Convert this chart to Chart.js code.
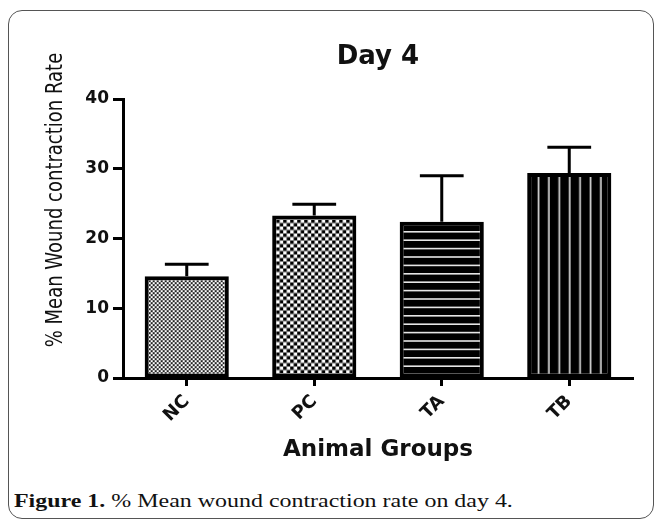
<!DOCTYPE html>
<html>
<head>
<meta charset="utf-8">
<script src="https://cdn.jsdelivr.net/npm/chart.js@4.4.1/dist/chart.umd.min.js"></script>
<style>
  body { margin: 0; background: #fff; }
  #wrap { position: relative; width: 655px; height: 524px; overflow: hidden; }
  #frame {
    position: absolute; left: 8px; top: 10px; width: 646px; height: 509px;
    border: 1px solid #555; border-radius: 14px; box-sizing: border-box;
  }
  #chartBox { position: absolute; left: 0; top: 0; width: 655px; height: 480px; }
  #caption {
    position: absolute; left: 14px; top: 491px; line-height: 20px; white-space: nowrap;
    font-family: "Liberation Serif", serif; font-size: 18px; color: #111;
    transform: scaleX(1.33); transform-origin: left top;
  }
</style>
</head>
<body>
<div id="wrap">
  <div id="frame"></div>
  <div id="chartBox"><canvas id="woundChart"></canvas></div>
  <div id="caption"><b>Figure 1.</b> % Mean wound contraction rate on day 4.</div>
</div>
<script>
// Data
const groups = ['NC', 'PC', 'TA', 'TB'];
const meanRate = [14.6, 23.3, 22.4, 29.4];
const semRate = [1.7, 1.6, 6.6, 3.7];
const yTicks = [0, 10, 20, 30, 40];

const BORDER = 4;

// Fill patterns for the bars
function makePattern(kind) {
    const c = document.createElement('canvas');
    let dx = 0, dy = 0;
    if (kind === 'fineCheck') {
        c.width = 4; c.height = 4;
        const g = c.getContext('2d');
        g.fillStyle = '#fff'; g.fillRect(0, 0, 4, 4);
        g.fillStyle = '#222';
        g.fillRect(0, 0, 2, 2); g.fillRect(2, 2, 2, 2);
    } else if (kind === 'check') {
        c.width = 7; c.height = 7;
        const g = c.getContext('2d');
        g.fillStyle = '#fff'; g.fillRect(0, 0, 7, 7);
        g.fillStyle = '#000';
        g.fillRect(0, 0, 3.5, 3.5); g.fillRect(3.5, 3.5, 3.5, 3.5);
    } else if (kind === 'hLines') {
        c.width = 10; c.height = 42;
        const g = c.getContext('2d');
        g.fillStyle = '#000'; g.fillRect(0, 0, 10, 42);
        g.fillStyle = '#e6e6e6';
        for (let k = 0; k < 5; k++) g.fillRect(0, k * 8.4, 10, 1.6);
        dy = 5.2;
    } else {
        c.width = 52; c.height = 10;
        const g = c.getContext('2d');
        g.fillStyle = '#000'; g.fillRect(0, 0, 52, 10);
        g.fillStyle = '#e6e6e6';
        for (let k = 0; k < 5; k++) g.fillRect(k * 10.4, 0, 1.6, 10);
        dx = 6.5;
    }
    const pattern = c.getContext('2d').createPattern(c, 'repeat');
    return { pattern, dx, dy };
}

const fills = ['fineCheck', 'check', 'hLines', 'vLines'].map(makePattern);

// Keep each pattern anchored to its own bar
const patternAnchor = {
    id: 'patternAnchor',
    beforeDatasetsDraw(chart) {
        chart.getDatasetMeta(0).data.forEach((bar, i) => {
            const left = bar.x - bar.width / 2 + BORDER;
            const top = bar.y + BORDER;
            fills[i].pattern.setTransform(new DOMMatrix([1, 0, 0, 1, left + fills[i].dx, top + fills[i].dy]));
        });
    }
};

// Upper SEM whiskers
const errorBars = {
    id: 'errorBars',
    afterDatasetsDraw(chart) {
        const ctx = chart.ctx;
        const y = chart.scales.y;
        ctx.save();
        ctx.strokeStyle = '#000';
        ctx.lineWidth = 3;
        chart.getDatasetMeta(0).data.forEach((bar, i) => {
            const top = y.getPixelForValue(meanRate[i] + semRate[i]);
            const half = bar.width * 0.26;
            ctx.beginPath();
            ctx.moveTo(bar.x, bar.y);
            ctx.lineTo(bar.x, top);
            ctx.moveTo(bar.x - half, top);
            ctx.lineTo(bar.x + half, top);
            ctx.stroke();
        });
        ctx.restore();
    }
};

// Titles: chart title centred over the plot area, y title a bit above the axis centre
const titles = {
    id: 'titles',
    afterDraw(chart) {
        const ctx = chart.ctx;
        const area = chart.chartArea;
        ctx.save();
        ctx.fillStyle = '#111';
        ctx.textAlign = 'center';
        ctx.textBaseline = 'alphabetic';
        ctx.font = 'bold 26px "DejaVu Sans"';
        ctx.fillText('Day 4', (area.left + area.right) / 2, 64);

        ctx.translate(62, 200);
        ctx.rotate(-Math.PI / 2);
        ctx.scale(1, 1.3);
        ctx.font = '18px "DejaVu Sans"';
        ctx.fillText('% Mean Wound contraction Rate', 0, 0);
        ctx.restore();
    }
};

Chart.defaults.font.family = '"DejaVu Sans", sans-serif';
Chart.defaults.color = '#111';

new Chart(document.getElementById('woundChart'), {
    type: 'bar',
    data: {
        labels: groups,
        datasets: [{
            data: meanRate,
            backgroundColor: fills.map(f => f.pattern),
            borderColor: '#000',
            borderWidth: BORDER,
            borderSkipped: false,
            barPercentage: 0.66,
            categoryPercentage: 1
        }]
    },
    options: {
        responsive: true,
        maintainAspectRatio: false,
        animation: false,
        layout: { padding: { left: 0, right: 22, top: 99, bottom: 0 } },
        plugins: {
            legend: { display: false },
            tooltip: { enabled: false },
            title: { display: false }
        },
        scales: {
            x: {
                afterFit(scale) { scale.height = 102; },
                grid: { offset: false, drawOnChartArea: false, drawTicks: true, tickLength: 8, tickWidth: 3, tickColor: '#000' },
                border: { display: true, color: '#000', width: 3 },
                ticks: { minRotation: 45, maxRotation: 45, autoSkip: false, padding: 5, font: { size: 18, weight: 'bold' }, color: '#111' },
                title: { display: true, text: 'Animal Groups', font: { size: 23, weight: 'bold' }, color: '#111', padding: { top: 0, bottom: 16 } }
            },
            y: {
                min: yTicks[0],
                max: yTicks[yTicks.length - 1],
                afterFit(scale) { scale.width = 123; },
                afterBuildTicks(scale) { scale.ticks = yTicks.map(v => ({ value: v })); },
                grid: { drawOnChartArea: false, drawTicks: true, tickLength: 10, tickWidth: 3, tickColor: '#000' },
                border: { display: true, color: '#000', width: 3 },
                ticks: { padding: 4, font: { size: 17, weight: 'bold' }, color: '#111' }
            }
        }
    },
    plugins: [patternAnchor, errorBars, titles]
});
</script>
</body>
</html>
